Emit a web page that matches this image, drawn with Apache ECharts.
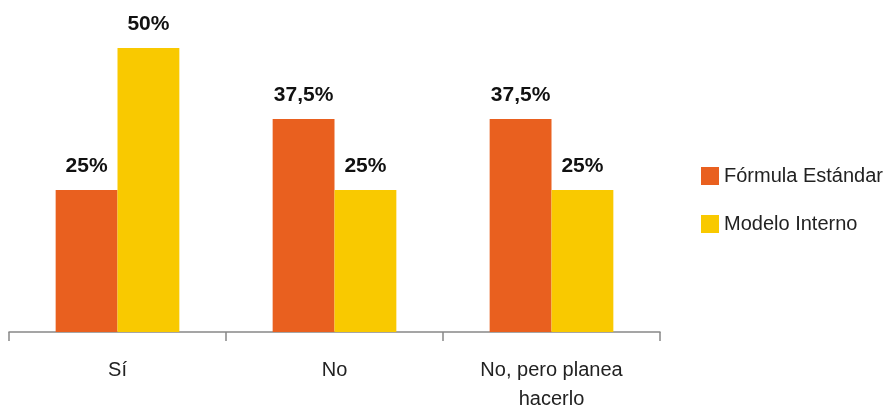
<!DOCTYPE html>
<html><head><meta charset="utf-8">
<script src="https://cdn.jsdelivr.net/npm/echarts@6/dist/echarts.min.js"></script>
<style>html,body{margin:0;padding:0;background:#fff}#c{width:891px;height:414px}</style>
</head><body><div id="c"></div>
<script>
var categories = ['Sí', 'No', 'No, pero planea\nhacerlo'];
var formulaEstandar = [25, 37.5, 37.5];
var modeloInterno = [50, 25, 25];
var seriesNames = ['Fórmula Estándar', 'Modelo Interno'];

var chart = echarts.init(document.getElementById('c'));
var lbl = {
  show: true, position: 'top', distance: 13,
  fontFamily: 'Liberation Sans', fontWeight: 'bold', fontSize: 21, color: '#111',
  formatter: function (p) { return String(p.value).replace('.', ',') + '%'; }
};
chart.setOption({
  animation: false,
  grid: { left: 9, right: 231, top: 48, bottom: 77, containLabel: false },
  legend: {
    orient: 'vertical', left: 701, top: 166, padding: 0, itemWidth: 18, itemHeight: 18, itemGap: 28,
    icon: 'rect',
    textStyle: { fontFamily: 'Liberation Sans', fontSize: 20, color: '#222' },
    data: seriesNames
  },
  xAxis: {
    type: 'category', data: categories,
    axisLine: { lineStyle: { color: '#888', width: 1.5 } },
    axisTick: { show: true, length: 9, lineStyle: { color: '#888', width: 1.5 } },
    axisLabel: { fontFamily: 'Liberation Sans', fontSize: 20, color: '#222', margin: 24, lineHeight: 29 }
  },
  yAxis: { type: 'value', min: 0, max: 50, show: false, splitLine: { show: false } },
  series: [
    { name: seriesNames[0], type: 'bar', data: formulaEstandar, barGap: '0%', barCategoryGap: '43%',
      itemStyle: { color: '#E9601F' }, label: lbl },
    { name: seriesNames[1], type: 'bar', data: modeloInterno, barGap: '0%', barCategoryGap: '43%',
      itemStyle: { color: '#F9C900' }, label: lbl }
  ]
});
</script></body></html>
